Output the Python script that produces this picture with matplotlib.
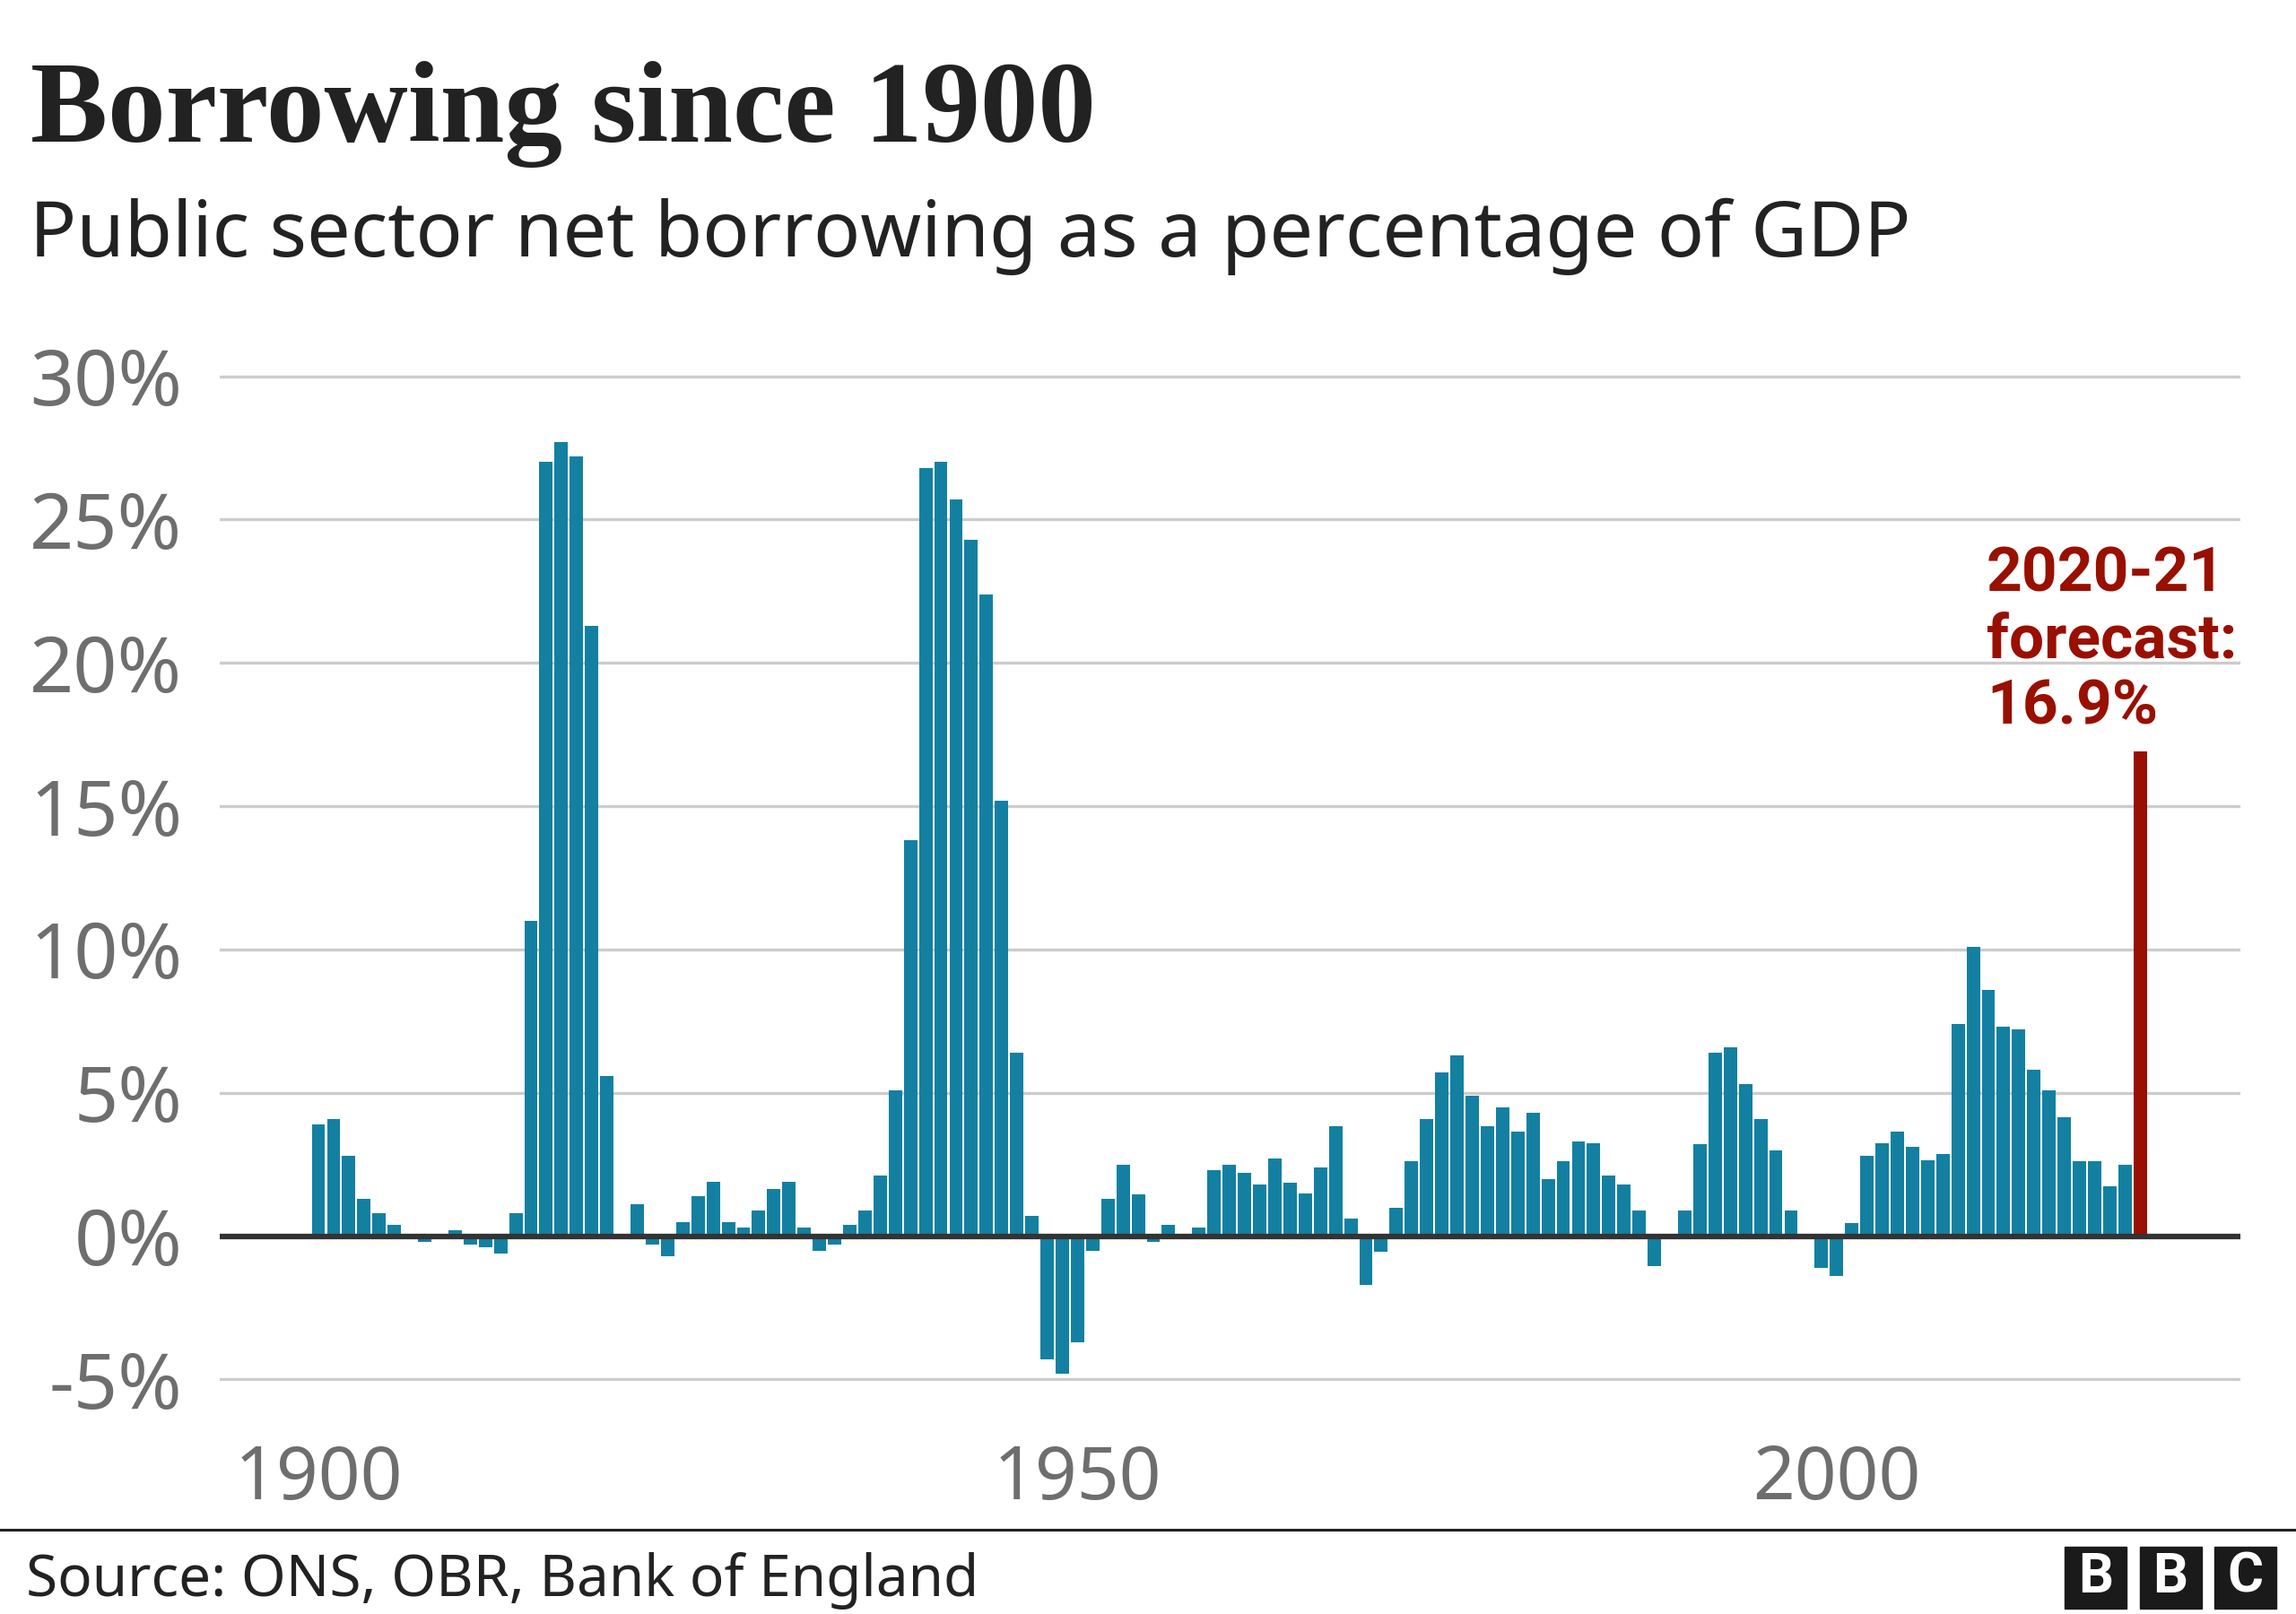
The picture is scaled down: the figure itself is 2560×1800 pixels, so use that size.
import numpy as np
import matplotlib.pyplot as plt
from matplotlib.patches import Rectangle
from matplotlib.lines import Line2D

# public sector net borrowing, % of GDP, 1900 .. 2020 (last one is the forecast)
years = np.arange(1900, 2021)
borrowing = [
    3.9, 4.1, 2.8, 1.3, 0.8, 0.4, 0.0, -0.2, 0.0, 0.2,          # 1900s
    -0.3, -0.4, -0.6, 0.8, 11.0, 27.0, 27.7, 27.2, 21.3, 5.6,   # 1910s
    0.0, 1.1, -0.3, -0.7, 0.5, 1.4, 1.9, 0.5, 0.3, 0.9,         # 1920s
    1.65, 1.9, 0.3, -0.5, -0.3, 0.4, 0.9, 2.1, 5.1, 13.8,       # 1930s
    26.8, 27.0, 25.7, 24.3, 22.4, 15.2, 6.4, 0.7, -4.3, -4.8,   # 1940s
    -3.7, -0.5, 1.3, 2.5, 1.45, -0.2, 0.4, 0.0, 0.3, 2.3,       # 1950s
    2.5, 2.2, 1.8, 2.7, 1.85, 1.5, 2.4, 3.85, 0.6, -1.7,        # 1960s
    -0.55, 1.0, 2.6, 4.1, 5.7, 6.3, 4.9, 3.85, 4.5, 3.65,       # 1970s
    4.3, 2.0, 2.6, 3.3, 3.25, 2.1, 1.8, 0.9, -1.05, 0.0,        # 1980s
    0.9, 3.2, 6.4, 6.6, 5.3, 4.1, 3.0, 0.9, 0.0, -1.1,          # 1990s
    -1.4, 0.45, 2.8, 3.25, 3.65, 3.1, 2.65, 2.85, 7.4, 10.1,    # 2000s
    8.6, 7.3, 7.2, 5.8, 5.1, 4.15, 2.6, 2.6, 1.75, 2.5,         # 2010s
    16.9,                                                       # 2020-21 forecast
]
yticks = [-5, 0, 5, 10, 15, 20, 25, 30]
xticks = [1900, 1950, 2000]
note_lines = ['2020-21', 'forecast:', '16.9%']

TEAL = '#1380a1'
RED = '#990f00'
GREY = '#6e6e6e'
DARK = '#222222'

W, H = 2560, 1800
fig = plt.figure(figsize=(W / 100, H / 100), dpi=100)


def fx(px):
    return px / W


def fy(py):
    return 1 - py / H


ax = fig.add_axes([fx(245), fy(1540), fx(2498) - fx(245), (1540 - 418) / H])

colors = [TEAL] * (len(years) - 1) + [RED]
ax.bar(years, borrowing, width=0.88, color=colors, zorder=2)

for y in yticks:
    if y != 0:
        ax.axhline(y, color='#cccccc', lw=2.4, zorder=1)
ax.axhline(0, color='#333333', lw=4.5, zorder=3)

ax.set_xlim(1893.5, 2026.6)
ax.set_ylim(-5.05, 30.05)
ax.set_yticks(yticks)
ax.set_yticklabels([f'{y}%' for y in yticks])
ax.set_xticks(xticks)
for s in ax.spines.values():
    s.set_visible(False)
ax.tick_params(axis='both', length=0, colors=GREY)
ax.tick_params(axis='y', pad=30, labelsize=62)
ax.tick_params(axis='x', pad=50, labelsize=59)
for lab in ax.get_xticklabels() + ax.get_yticklabels():
    lab.set_family('Noto Sans')

# annotation for the forecast bar
for txt, base in zip(note_lines, [660, 734, 808]):
    fig.text(fx(2215), fy(base), txt, color=RED, fontsize=50, fontweight='bold',
             family='Roboto', va='baseline', ha='left')

# titles
fig.text(fx(34), fy(158), 'Borrowing since 1900', fontsize=93, fontweight='bold',
         family='Liberation Serif', color=DARK, va='baseline')
fig.text(fx(33), fy(286), 'Public sector net borrowing as a percentage of GDP',
         fontsize=62.3, family='Noto Sans', color=DARK, va='baseline')

# footer
fig.add_artist(Line2D([0, 1], [fy(1706), fy(1706)], color=DARK, lw=2.2))
fig.text(fx(29), fy(1780), 'Source: ONS, OBR, Bank of England', fontsize=46,
         family='Noto Sans', color=DARK, va='baseline')

for i, letter in enumerate('BBC'):
    x0 = 2302 + i * 83.5
    fig.add_artist(Rectangle((fx(x0), fy(1794)), fx(69), 69 / H, color='#1a1a1a'))
    fig.text(fx(x0 + 34.5), fy(1759), letter, color='white', fontsize=44,
             fontweight='bold', family='Roboto', ha='center', va='center')

fig.savefig('out.png', dpi=100, facecolor='white')
